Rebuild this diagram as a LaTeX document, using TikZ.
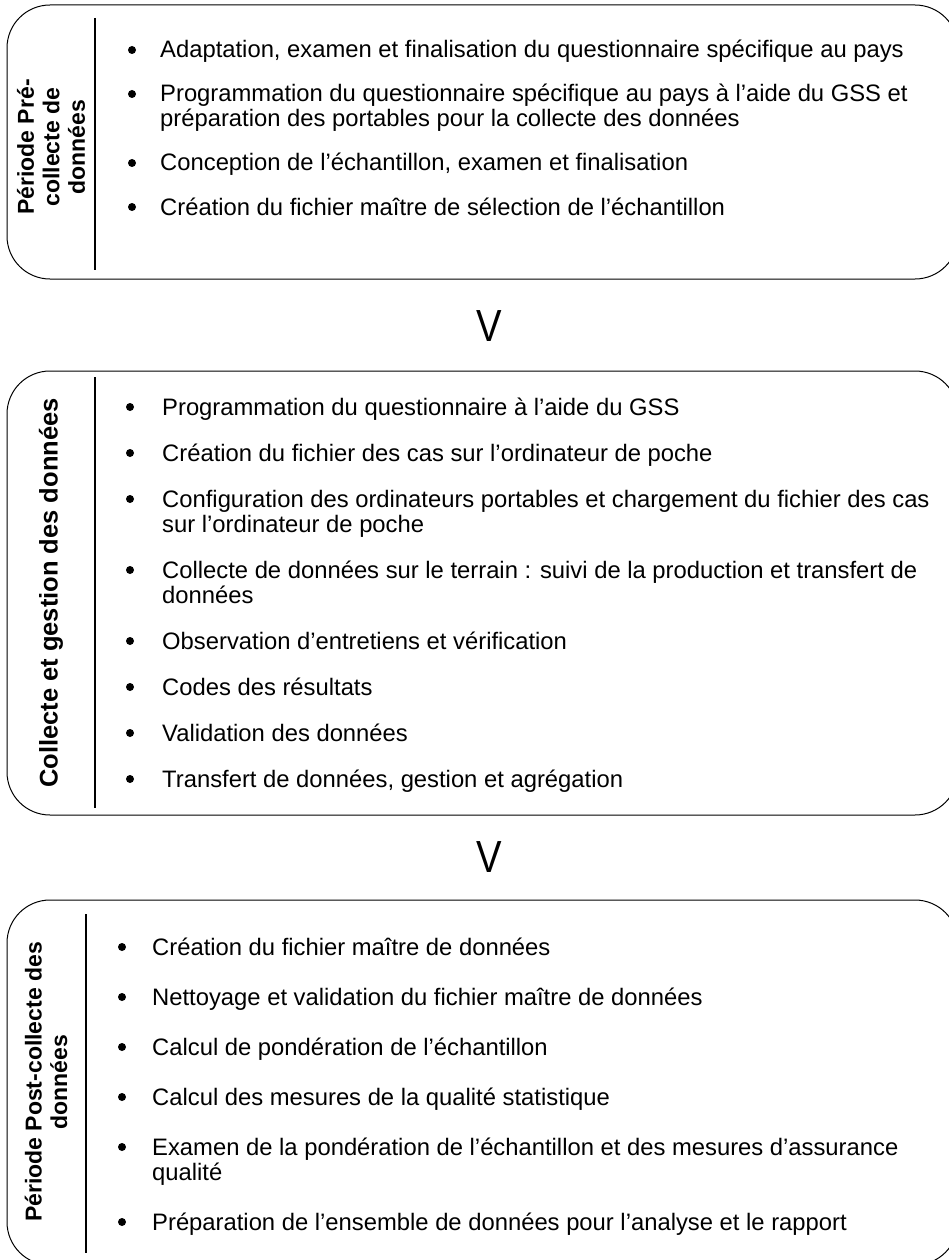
\documentclass[tikz,border=0pt]{standalone}
\usepackage{fontspec}
\setmainfont{Liberation Sans}
\begin{document}
\begin{tikzpicture}[x=1pt,y=-1pt,
  box/.style={draw=black, line width=1pt, rounded corners=43pt, inner sep=0pt, minimum width=951pt},
  sepline/.style={line width=2pt},
  item/.style={anchor=base west, inner sep=0pt, align=left, font=\fontsize{23.8}{25}\selectfont},
  dot/.style={circle, fill=black, inner sep=0pt, minimum size=8pt},
  lab/.style={rotate=90, align=center, inner sep=0pt, font=\fontsize{23}{25.5}\selectfont\bfseries},
  chev/.style={inner sep=0pt, xscale=0.85, font=\fontsize{45}{45}\selectfont}]
\useasboundingbox (0,0) rectangle (948,1260);
% boxes
\node[box, minimum height=274pt] (box1) at (482.5,142) {};
\node[box, minimum height=444pt] (box2) at (482.5,593) {};
\node[box, minimum height=365pt] (box3) at (482.5,1082.5) {};
% separators
\coordinate (s1t) at (95,18);  \coordinate (s1b) at (95,270);
\coordinate (s2t) at (95,377); \coordinate (s2b) at (95,808);
\coordinate (s3t) at (86,914); \coordinate (s3b) at (86,1253);
\draw[sepline] (s1t) -- (s1b);
\draw[sepline] (s2t) -- (s2b);
\draw[sepline] (s3t) -- (s3b);
% labels
\node[lab] (lab1) at (51,147) {Période Pré-\\collecte de\\données};
\node[lab, font=\fontsize{25.5}{28}\selectfont\bfseries] (lab2) at (51,593) {Collecte et gestion des données};
\node[lab] (lab3) at (46,1082) {Période Post-collecte des\\données};
% chevrons
\node[chev] (v1) at (489.5,326) {V};
\node[chev] (v2) at (489.5,857.5) {V};
% box 1 items
\node[dot] (d11) at (132,50) {};
\node[item] (t11) at (160,58) {Adaptation, examen et finalisation du questionnaire spécifique au pays};
\node[dot] (d12) at (132,94) {};
\node[item] (t12) at (160,127) {Programmation du questionnaire spécifique au pays à l’aide du GSS et\\préparation des portables pour la collecte des données};
\node[dot] (d13) at (132,163) {};
\node[item] (t13) at (160,171) {Conception de l’échantillon, examen et finalisation};
\node[dot] (d14) at (132,207) {};
\node[item] (t14) at (160,215) {Création du fichier maître de sélection de l’échantillon};
% box 2 items
\node[dot] (d21) at (130,407) {};
\node[item] (t21) at (162,415) {Programmation du questionnaire à l’aide du GSS};
\node[dot] (d22) at (130,453) {};
\node[item] (t22) at (162,461) {Création du fichier des cas sur l’ordinateur de poche};
\node[dot] (d23) at (130,499) {};
\node[item] (t23) at (162,532) {Configuration des ordinateurs portables et chargement du fichier des cas\\sur l’ordinateur de poche};
\node[dot] (d24) at (130,570) {};
\node[item] (t24) at (162,603) {Collecte de données sur le terrain : suivi de la production et transfert de\\données};
\node[dot] (d25) at (130,641) {};
\node[item] (t25) at (162,649) {Observation d’entretiens et vérification};
\node[dot] (d26) at (130,687) {};
\node[item] (t26) at (162,695) {Codes des résultats};
\node[dot] (d27) at (130,733) {};
\node[item] (t27) at (162,741) {Validation des données};
\node[dot] (d28) at (130,779) {};
\node[item] (t28) at (162,787) {Transfert de données, gestion et agrégation};
% box 3 items
\node[dot] (d31) at (122,947) {};
\node[item] (t31) at (152,955) {Création du fichier maître de données};
\node[dot] (d32) at (122,997) {};
\node[item] (t32) at (152,1005) {Nettoyage et validation du fichier maître de données};
\node[dot] (d33) at (122,1047) {};
\node[item] (t33) at (152,1055) {Calcul de pondération de l’échantillon};
\node[dot] (d34) at (122,1097) {};
\node[item] (t34) at (152,1105) {Calcul des mesures de la qualité statistique};
\node[dot] (d35) at (122,1147) {};
\node[item] (t35) at (152,1180) {Examen de la pondération de l’échantillon et des mesures d’assurance\\qualité};
\node[dot] (d36) at (122,1222) {};
\node[item] (t36) at (152,1230) {Préparation de l’ensemble de données pour l’analyse et le rapport};
\end{tikzpicture}
\end{document}
